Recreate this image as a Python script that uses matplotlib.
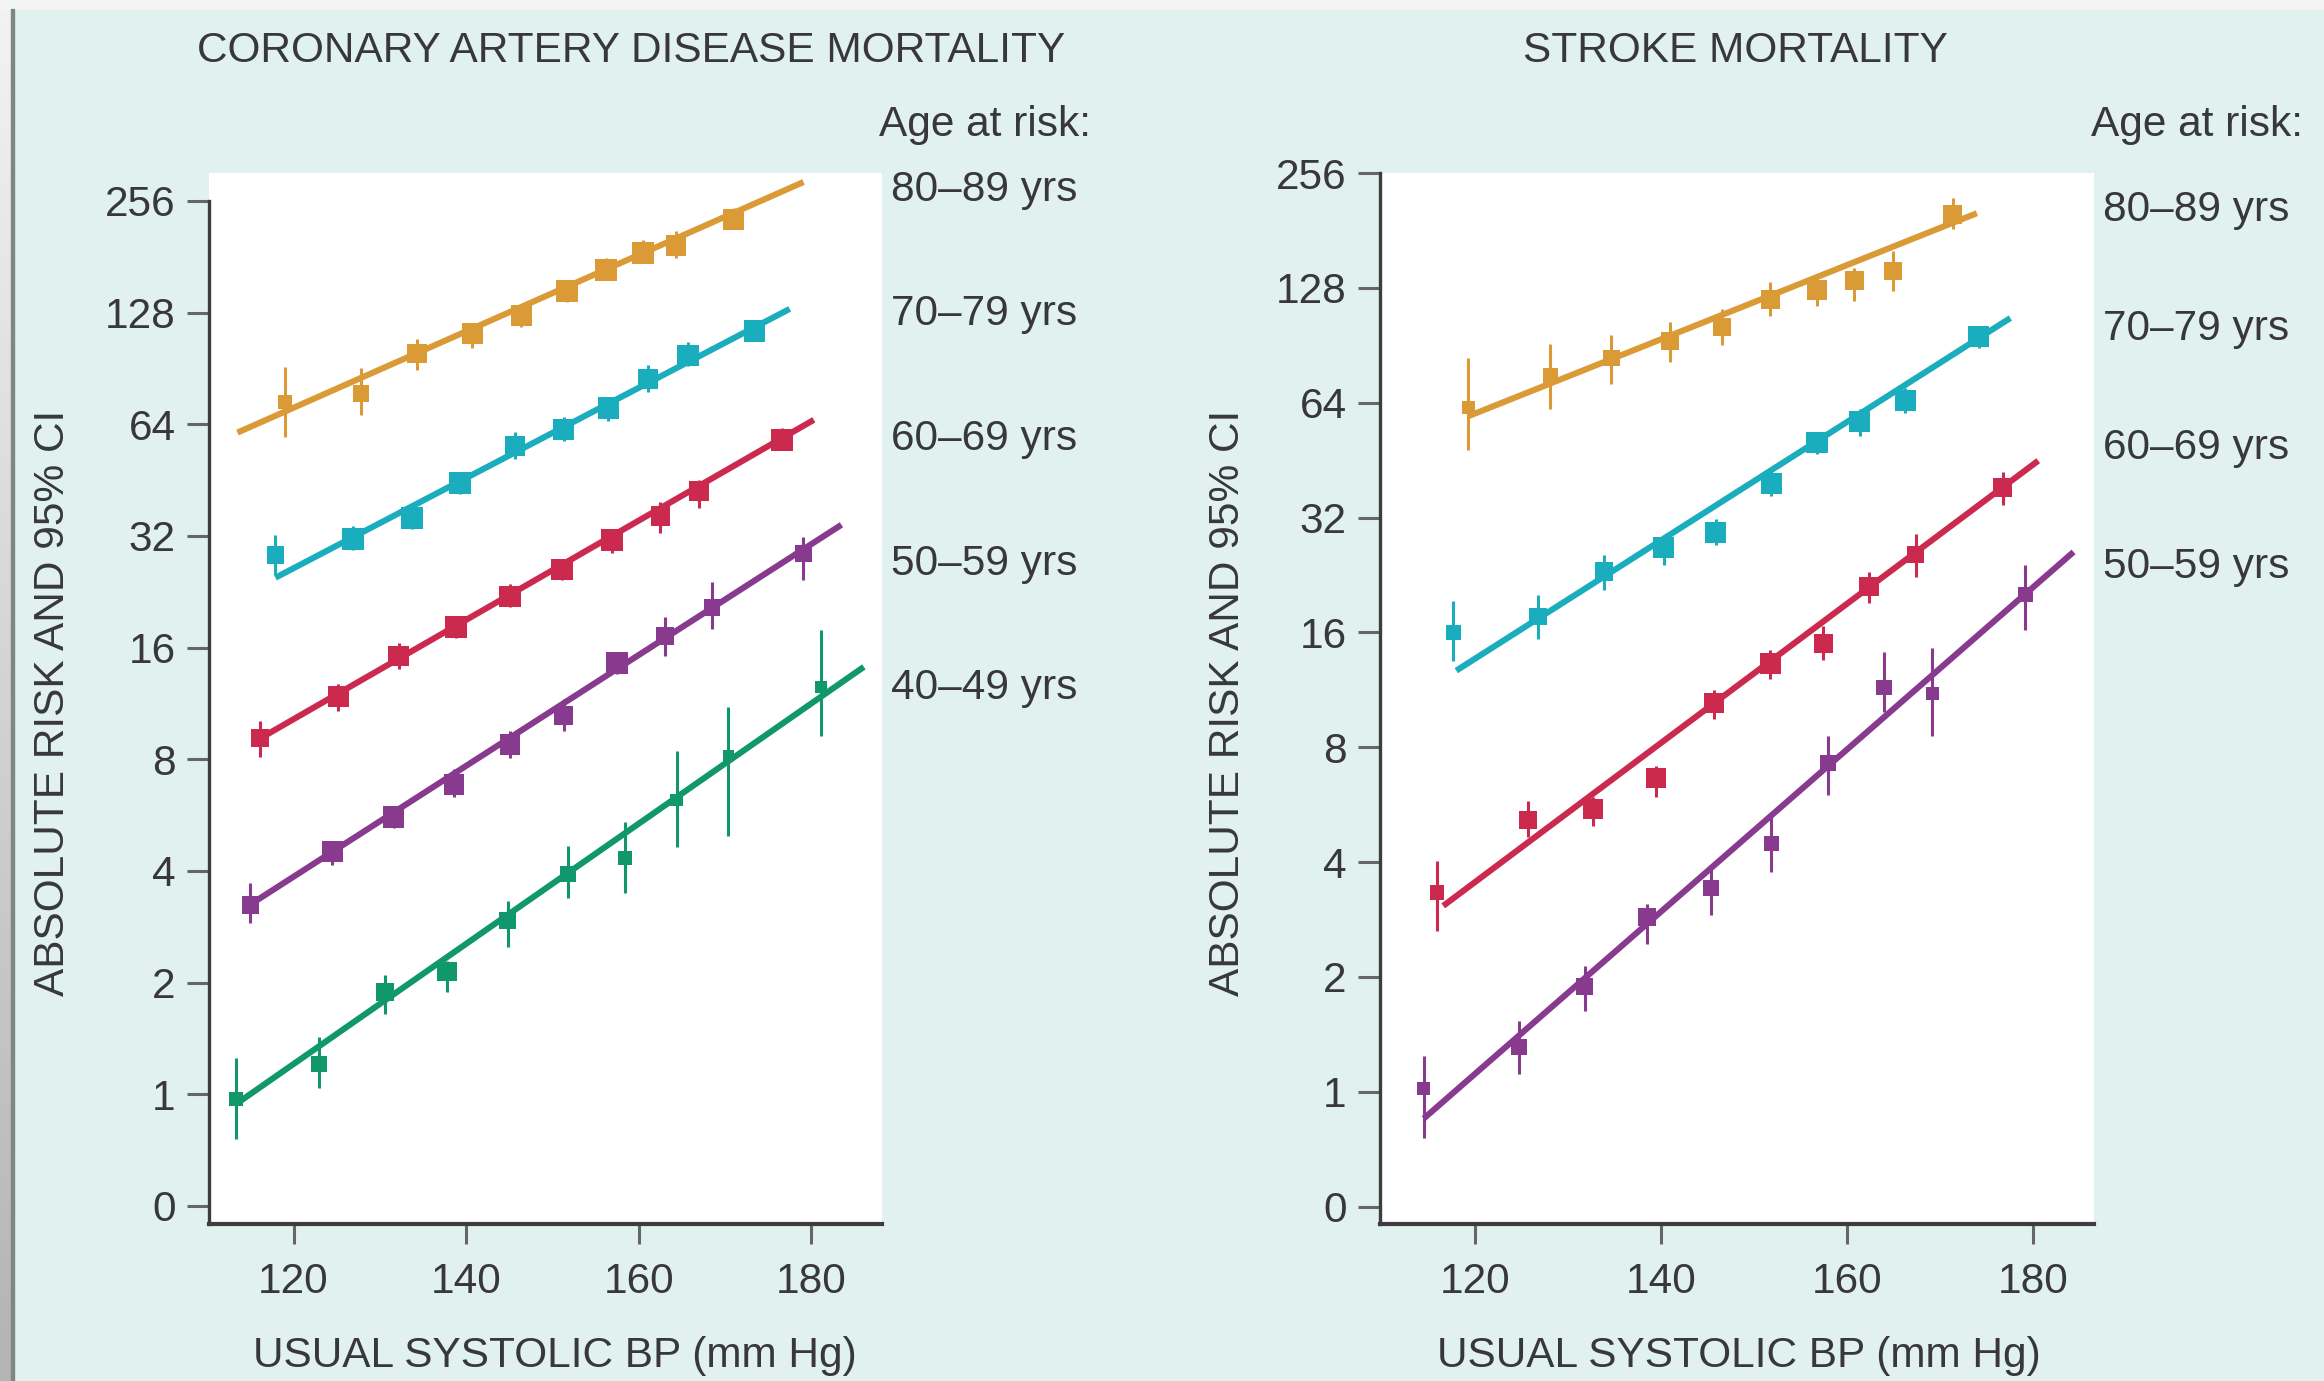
import numpy as np
import matplotlib
matplotlib.use("Agg")
import matplotlib.pyplot as plt
from matplotlib.patches import Rectangle

plt.rcParams['font.family'] = ['Liberation Sans', 'DejaVu Sans']

# --- coronary artery disease mortality, one list per age group ---
chd_ages = ["80–89 yrs", "70–79 yrs", "60–69 yrs", "50–59 yrs", "40–49 yrs"]
chd_x = [
    [119.0, 127.8, 134.3, 140.7, 146.4, 151.7, 156.2, 160.5, 164.3, 171.0],
    [117.9, 126.9, 133.7, 139.3, 145.7, 151.3, 156.5, 161.1, 165.7, 173.4],
    [116.1, 125.2, 132.2, 138.8, 145.1, 151.1, 156.9, 162.5, 167.0, 176.6],
    [115.0, 124.5, 131.6, 138.6, 145.1, 151.3, 157.5, 163.1, 168.5, 179.1],
    [113.3, 123.0, 130.6, 137.8, 144.8, 151.8, 158.4, 164.4, 170.4, 181.1],
]
chd_risk = [
    [73.5, 77.6, 99.5, 112.6, 125.8, 146.6, 166.9, 185.4, 194.4, 228.0],
    [28.4, 31.4, 35.8, 44.4, 56.0, 62.1, 70.8, 84.7, 98.1, 114.2],
    [9.14, 11.8, 15.2, 18.2, 22.0, 26.0, 31.2, 36.2, 42.2, 58.0],
    [3.24, 4.52, 5.59, 6.84, 8.77, 10.49, 14.54, 17.17, 20.56, 28.66],
    [0.97, 1.21, 1.89, 2.14, 2.94, 3.93, 4.33, 6.21, 8.18, 12.56],
]
chd_lo = [
    [59.3, 67.6, 89.8, 103.0, 116.8, 136.8, 156.3, 174.6, 179.5, 215.0],
    [25.1, 29.4, 33.5, 41.5, 51.5, 57.6, 65.2, 78.1, 91.8, 107.5],
    [8.14, 10.8, 14.0, 17.0, 20.6, 24.4, 28.8, 32.6, 38.0, 54.5],
    [2.89, 4.15, 5.23, 6.34, 8.08, 9.54, 13.6, 15.2, 17.95, 24.4],
    [0.76, 1.04, 1.65, 1.89, 2.50, 3.38, 3.49, 4.64, 4.97, 9.27],
]
chd_hi = [
    [91.6, 90.5, 109.0, 120.1, 132.2, 156.3, 179.5, 200.6, 212.2, 244.8],
    [32.2, 34.0, 38.2, 47.4, 61.2, 67.1, 76.0, 92.3, 106.5, 122.4],
    [10.17, 12.76, 16.5, 19.5, 23.7, 27.6, 33.5, 39.6, 45.4, 62.6],
    [3.71, 4.83, 5.95, 7.53, 9.54, 11.6, 15.6, 19.3, 24.0, 31.7],
    [1.25, 1.43, 2.10, 2.29, 3.33, 4.68, 5.43, 8.41, 11.08, 17.9],
]
# fitted regression lines: (start, end)
chd_fit_x = [(113.5, 179.1), (117.9, 177.5), (116.1, 180.3), (115.0, 183.5), (113.3, 186.1)]
chd_fit_y = [(60.8, 288.0), (24.7, 131.0), (9.1, 65.8), (3.25, 34.3), (0.94, 14.2)]

# --- stroke mortality ---
stroke_ages = ["80–89 yrs", "70–79 yrs", "60–69 yrs", "50–59 yrs"]
stroke_x = [
    [119.3, 128.1, 134.7, 141.0, 146.6, 151.8, 156.8, 160.8, 165.0, 171.4],
    [117.7, 126.8, 133.9, 140.3, 145.9, 151.9, 156.8, 161.4, 166.3, 174.2],
    [115.9, 125.7, 132.7, 139.5, 145.7, 151.8, 157.5, 162.4, 167.4, 176.8],
    [114.5, 124.7, 131.8, 138.5, 145.4, 151.9, 158.0, 164.0, 169.2, 179.2],
]
stroke_risk = [
    [62.3, 75.3, 83.8, 92.8, 101.1, 119.5, 126.4, 134.1, 141.5, 199.3],
    [16.0, 17.6, 23.1, 26.7, 29.3, 39.4, 50.3, 57.2, 64.9, 95.4],
    [3.33, 5.16, 5.52, 6.65, 10.45, 13.26, 14.96, 21.1, 25.6, 38.4],
    [1.02, 1.31, 1.89, 2.87, 3.42, 4.47, 7.27, 11.49, 11.04, 20.1],
]
stroke_lo = [
    [48.2, 61.5, 71.8, 81.6, 90.8, 108.1, 114.8, 118.3, 125.4, 182.9],
    [13.5, 15.4, 20.7, 24.0, 27.1, 36.4, 47.0, 52.5, 60.0, 89.0],
    [2.63, 4.66, 4.98, 5.91, 9.51, 12.06, 13.51, 19.1, 22.4, 34.5],
    [0.755, 1.11, 1.63, 2.44, 2.91, 3.76, 6.01, 9.9, 8.54, 16.2],
]
stroke_hi = [
    [83.8, 91.3, 96.4, 104.4, 112.6, 132.3, 135.9, 144.2, 159.8, 220.9],
    [19.3, 20.1, 25.6, 28.5, 31.8, 42.7, 53.5, 61.5, 70.0, 102.0],
    [4.02, 5.78, 5.91, 7.16, 11.33, 14.37, 16.67, 23.1, 28.9, 42.2],
    [1.24, 1.53, 2.13, 3.11, 3.86, 5.26, 8.54, 14.18, 14.56, 23.98],
]
stroke_fit_x = [(119.3, 174.0), (118.0, 177.6), (116.6, 180.6), (114.5, 184.4)]
stroke_fit_y = [(59.0, 200.9), (12.7, 106.7), (3.07, 45.1), (0.85, 26.0)]

ytick_vals = [0.5, 1, 2, 4, 8, 16, 32, 64, 128, 256]
ytick_labels = ["0", "1", "2", "4", "8", "16", "32", "64", "128", "256"]
xtick_vals = [120, 140, 160, 180]

colors = ["#da9a35", "#1aadbd", "#cb2a4e", "#883a8e", "#10976c"]
txt = "#383838"
FS = 30.5

W, H = 2324, 1381
fig = plt.figure(figsize=(W / 100, H / 100), dpi=100, facecolor="#e1f1ef")


def fpos(x, y):
    # pixel position measured from the top-left corner -> figure fraction
    return x / W, 1 - y / H


# page edges: light strip on top, shaded strip at the left
fig.patches.append(Rectangle((0, 1 - 9 / H), 1, 9 / H, transform=fig.transFigure,
                             color="#f4f4f4", zorder=0))
edge = fig.add_axes([0, 0, 11 / W, 1 - 9 / H])
edge.imshow(np.linspace(0, 1, 100).reshape(-1, 1), aspect="auto",
            cmap=matplotlib.colors.LinearSegmentedColormap.from_list("g", ["#f2f2f2", "#b4b4b4"]))
edge.axis("off")
fig.patches.append(Rectangle((11 / W, 0), 2.5 / W, 1 - 9 / H, transform=fig.transFigure,
                             color="#7c8886", zorder=0))


def draw_panel(rect, ylog, xlim, ages, xs, risks, los, his, fit_xs, fit_ys):
    ax = fig.add_axes(rect)
    ax.set_facecolor("white")
    ax.set_yscale("log", base=2)
    for i in range(len(ages)):
        c = colors[i]
        x = np.array(xs[i])
        lo = np.array(los[i])
        hi = np.array(his[i])
        ax.plot(fit_xs[i], fit_ys[i], color=c, lw=4.4, solid_capstyle="butt", zorder=2)
        ax.vlines(x, lo, hi, colors=c, lw=2.2, zorder=3)
        # square size shrinks as the confidence interval widens
        side = np.clip(8.6 * np.log2(hi / lo) ** -0.38, 6.8, 15.5)
        ax.scatter(x, risks[i], s=side ** 2, marker="s", color=c, linewidths=0, zorder=4)
    ax.set_xlim(*xlim)
    ax.set_ylim(2 ** ylog[0], 2 ** ylog[1])
    ax.set_yticks(ytick_vals)
    ax.set_yticklabels(ytick_labels)
    ax.yaxis.set_minor_locator(matplotlib.ticker.NullLocator())
    ax.set_xticks(xtick_vals)
    for s in ["top", "right"]:
        ax.spines[s].set_visible(False)
    ax.spines["left"].set_linewidth(2.4)
    ax.spines["bottom"].set_linewidth(3.0)
    ax.spines["left"].set_color("#3d3d3d")
    ax.spines["bottom"].set_color("#3d3d3d")
    ax.spines["left"].set_bounds(2 ** ylog[0], 256)
    ax.tick_params(axis="y", length=16, width=2.2, color="#666666", pad=8,
                   labelsize=FS, labelcolor=txt)
    ax.tick_params(axis="x", length=14.5, width=2.2, color="#666666", pad=13,
                   labelsize=FS, labelcolor=txt)
    return ax


draw_panel([209 / W, 1 - 1223.5 / H, 673 / W, 1051 / H], (-1.157, 8.255), (110.2, 188.2),
           chd_ages, chd_x, chd_risk, chd_lo, chd_hi, chd_fit_x, chd_fit_y)
draw_panel([1380 / W, 1 - 1223.5 / H, 714 / W, 1051 / H], (-1.148, 8.005), (109.8, 186.6),
           stroke_ages, stroke_x, stroke_risk, stroke_lo, stroke_hi, stroke_fit_x, stroke_fit_y)

# titles and axis labels
fig.text(*fpos(631, 62), "CORONARY ARTERY DISEASE MORTALITY", ha="center", va="baseline",
         fontsize=FS, color=txt)
fig.text(*fpos(1735, 62), "STROKE MORTALITY", ha="center", va="baseline",
         fontsize=FS, color=txt)
for cx in [555, 1739]:
    fig.text(*fpos(cx, 1367), "USUAL SYSTOLIC BP (mm Hg)", ha="center", va="baseline",
             fontsize=FS, color=txt)
for cx in [53, 1228]:
    fig.text(*fpos(cx, 703), "ABSOLUTE RISK AND 95% CI", ha="center", va="center",
             rotation=90, fontsize=FS, color=txt)

# age group labels at the right of each panel
fig.text(*fpos(879, 136), "Age at risk:", ha="left", va="baseline", fontsize=FS, color=txt)
fig.text(*fpos(2091, 136), "Age at risk:", ha="left", va="baseline", fontsize=FS, color=txt)
for i, lab in enumerate(chd_ages):
    fig.text(*fpos(891, 201 + 124.5 * i), lab, ha="left", va="baseline", fontsize=FS, color=txt)
for i, lab in enumerate(stroke_ages):
    fig.text(*fpos(2103, 221 + 119 * i), lab, ha="left", va="baseline", fontsize=FS, color=txt)

fig.savefig("out.png", dpi=100, facecolor=fig.get_facecolor())
